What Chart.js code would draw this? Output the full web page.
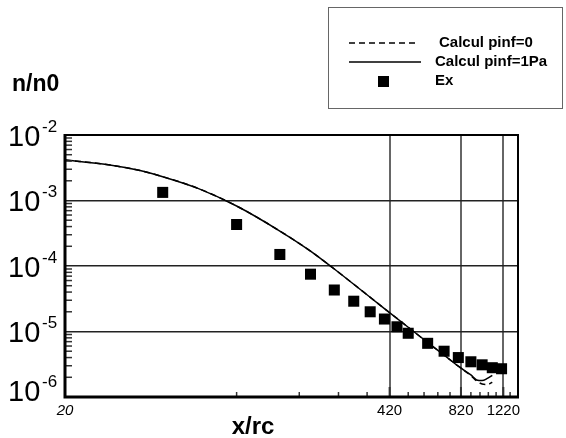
<!DOCTYPE html>
<html>
<head>
<meta charset="utf-8">
<script src="https://cdn.jsdelivr.net/npm/chart.js@4.4.0/dist/chart.umd.min.js"></script>
<style>
  body { margin: 0; background: #fff; }
  #wrap { width: 566px; height: 438px; }
</style>
</head>
<body>
<div id="wrap"><canvas id="chart" width="566" height="438"></canvas></div>
<script>
// Valeurs
const xCalc = [20, 30, 40, 50, 70, 100, 150, 200, 250, 300, 400, 500, 600, 700, 800, 900, 950, 1000, 1050, 1100];
const yPinf0 = [4.15e-3, 3.52e-3, 2.89e-3, 2.31e-3, 1.52e-3, 8.24e-4, 3.42e-4, 1.69e-4, 9.0e-5, 5.26e-5, 2.24e-5, 1.16e-5, 6.8e-6, 4.35e-6, 2.95e-6, 2.12e-6, 1.75e-6, 1.58e-6, 1.55e-6, 1.68e-6];
const yPinf1 = [4.15e-3, 3.52e-3, 2.89e-3, 2.31e-3, 1.52e-3, 8.24e-4, 3.42e-4, 1.69e-4, 9.0e-5, 5.26e-5, 2.24e-5, 1.16e-5, 6.8e-6, 4.35e-6, 2.95e-6, 2.17e-6, 1.82e-6, 1.78e-6, 1.92e-6, 2.14e-6];
const xExp = [50, 100, 150, 200, 250, 300, 350, 400, 450, 500, 600, 700, 800, 900, 1000, 1100, 1200];
const yExp = [1.33e-3, 4.3e-4, 1.5e-4, 7.5e-5, 4.3e-5, 2.9e-5, 2.0e-5, 1.55e-5, 1.18e-5, 9.4e-6, 6.6e-6, 5.0e-6, 4.0e-6, 3.45e-6, 3.1e-6, 2.8e-6, 2.7e-6];

const xMajorTicks = [20, 420, 820, 1220];
const xMinorTicks = [100, 180, 260, 340, 500, 580, 660, 740, 900, 980, 1060, 1140, 1300];
const yDecades = [-6, -5, -4, -3, -2];

const FONT = "'Liberation Sans', Arial, sans-serif";

function toPoints(xs, ys) {
    return xs.map((x, i) => ({ x: x, y: ys[i] }));
}

// Cadre, graduations, libellés et légende
const decorPlugin = {
    id: 'decor',
    afterDraw(chart) {
        const c = chart.ctx;
        const a = chart.chartArea;
        const xs = chart.scales.x;
        const ys = chart.scales.y;
        c.save();

        // graduations mineures de l'axe y (vers l'intérieur)
        c.strokeStyle = '#333';
        c.lineWidth = 1.5;
        yDecades.slice(0, -1).forEach(d => {
            for (let m = 2; m <= 9; m++) {
                const py = ys.getPixelForValue(m * Math.pow(10, d));
                c.beginPath();
                c.moveTo(a.left, py);
                c.lineTo(a.left + 7, py);
                c.stroke();
            }
        });

        // graduations de l'axe x
        xMinorTicks.forEach(v => {
            const px = xs.getPixelForValue(v);
            c.beginPath();
            c.moveTo(px, a.bottom);
            c.lineTo(px, a.bottom - 5);
            c.stroke();
        });
        c.lineWidth = 2;
        xMajorTicks.slice(1).forEach(v => {
            const px = xs.getPixelForValue(v);
            c.beginPath();
            c.moveTo(px, a.bottom);
            c.lineTo(px, a.bottom - 10);
            c.stroke();
        });

        // cadre
        c.strokeStyle = '#000';
        c.lineWidth = 2;
        c.strokeRect(a.left, a.top, a.right - a.left, a.bottom - a.top);
        c.lineWidth = 3;
        c.beginPath();
        c.moveTo(a.left, a.top - 1);
        c.lineTo(a.left, a.bottom);
        c.lineTo(a.right + 1, a.bottom);
        c.stroke();

        // libellés y : 10 puissance
        c.fillStyle = '#000';
        c.textBaseline = 'alphabetic';
        yDecades.forEach(d => {
            let py = ys.getPixelForValue(Math.pow(10, d));
            py = Math.min(py, 390);
            c.textAlign = 'left';
            c.font = '29px ' + FONT;
            c.fillText('10', 8, py + 10.5);
            c.font = '17px ' + FONT;
            c.fillText(String(d), 42, py - 3.5);
        });

        // libellés x
        c.textAlign = 'center';
        xMajorTicks.forEach(v => {
            const px = xs.getPixelForValue(v);
            c.font = (v === 20 ? 'italic ' : '') + '15px ' + FONT;
            c.fillText(String(v), px, 415);
        });

        // titres des axes
        c.font = 'bold 23px ' + FONT;
        c.textAlign = 'left';
        c.fillText('n/n0', 12, 91);
        c.font = 'bold 24px ' + FONT;
        c.textAlign = 'center';
        c.fillText('x/rc', 253, 434);

        // légende
        c.strokeStyle = '#666';
        c.lineWidth = 1;
        c.strokeRect(328.5, 7.5, 234, 101);
        const rows = [43, 62, 81];
        c.font = 'bold 15px ' + FONT;
        c.textAlign = 'left';
        c.textBaseline = 'middle';
        chart.data.datasets.forEach((ds, i) => {
            const y = rows[i];
            c.strokeStyle = '#000';
            c.fillStyle = '#000';
            if (ds.showLine) {
                c.lineWidth = 1.5;
                c.setLineDash(ds.borderDash || []);
                c.beginPath();
                c.moveTo(349, y);
                c.lineTo(ds.borderDash ? 418 : 421, y);
                c.stroke();
                c.setLineDash([]);
            } else {
                c.fillRect(378, y - 5, 11, 11);
            }
            c.fillText(ds.label, i === 0 ? 439 : 435, y);
        });

        c.restore();
    }
};

new Chart(document.getElementById('chart'), {
    type: 'scatter',
    data: {
        datasets: [{
            label: 'Calcul pinf=0',
            data: toPoints(xCalc, yPinf0),
            showLine: true,
            borderColor: '#000',
            borderWidth: 1.5,
            borderDash: [6, 4],
            pointRadius: 0,
            cubicInterpolationMode: 'monotone'
        },
        {
            label: 'Calcul pinf=1Pa',
            data: toPoints(xCalc, yPinf1),
            showLine: true,
            borderColor: '#000',
            borderWidth: 1.5,
            pointRadius: 0,
            cubicInterpolationMode: 'monotone'
        },
        {
            label: 'Ex',
            data: toPoints(xExp, yExp),
            showLine: false,
            pointStyle: 'rect',
            pointRadius: 7.8,
            pointBackgroundColor: '#000',
            pointBorderWidth: 0
        }
        ]
    },
    options: {
        responsive: false,
        animation: false,
        devicePixelRatio: 1,
        layout: {
            padding: { left: 65, top: 135, right: 48, bottom: 41 }
        },
        plugins: {
            legend: { display: false },
            tooltip: { enabled: false }
        },
        scales: {
            x: {
                type: 'logarithmic',
                min: 20,
                max: 1400,
                afterBuildTicks: scale => {
                    scale.ticks = xMajorTicks.concat(xMinorTicks).sort((p, q) => p - q).map(v => ({ value: v }));
                },
                ticks: { display: false },
                border: { display: false },
                grid: {
                    drawTicks: false,
                    lineWidth: 2,
                    color: ctx => (ctx.tick && [420, 820, 1220].includes(ctx.tick.value)) ? '#666' : 'rgba(0,0,0,0)'
                }
            },
            y: {
                type: 'logarithmic',
                min: 1e-6,
                max: 1e-2,
                afterBuildTicks: scale => {
                    scale.ticks = yDecades.map(d => ({ value: Math.pow(10, d) }));
                },
                ticks: { display: false },
                border: { display: false },
                grid: {
                    drawTicks: false,
                    lineWidth: 1.5,
                    color: ctx => {
                        if (!ctx.tick) return 'rgba(0,0,0,0)';
                        const d = Math.round(Math.log10(ctx.tick.value));
                        return (d > -6 && d < -2) ? '#222' : 'rgba(0,0,0,0)';
                    }
                }
            }
        }
    },
    plugins: [decorPlugin]
});
</script>
</body>
</html>
